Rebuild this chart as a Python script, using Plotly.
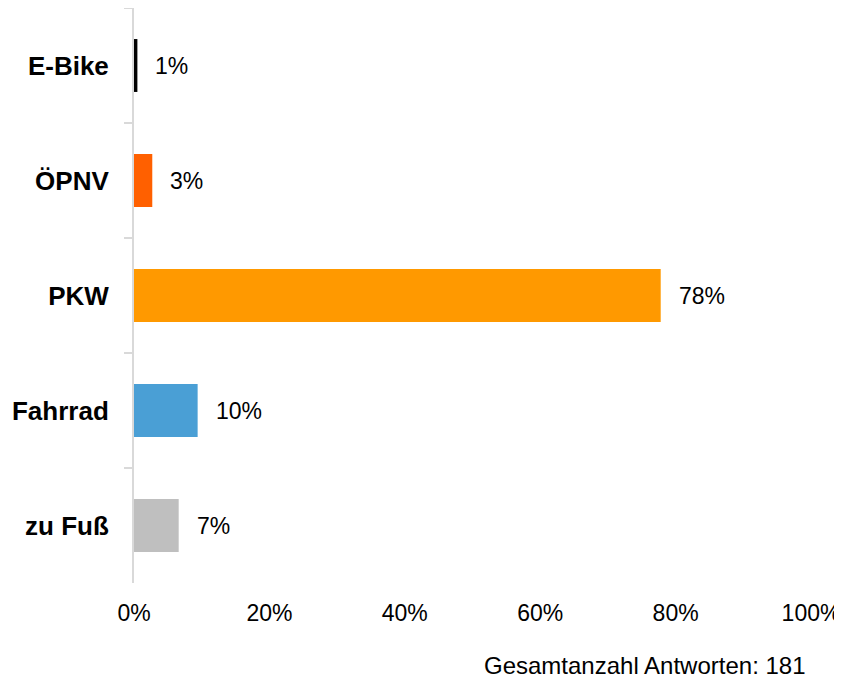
import plotly.graph_objects as go

categories = ["E-Bike", "ÖPNV", "PKW", "Fahrrad", "zu Fuß"]
values = [0.5, 2.7, 77.8, 9.4, 6.6]
labels = ["1%", "3%", "78%", "10%", "7%"]
colors = ["#000000", "#FF6000", "#FF9900", "#4A9FD5", "#BFBFBF"]
x_ticks = [0, 20, 40, 60, 80, 100]
x_ticklabels = ["0%", "20%", "40%", "60%", "80%", "100%"]
note = "Gesamtanzahl Antworten: 181"

FONT = "Liberation Sans, Arial, sans-serif"

fig = go.Figure()
fig.add_trace(go.Bar(
    x=values, y=categories, orientation="h",
    marker=dict(color=colors, line=dict(width=0)),
    hoverinfo="skip",
))

for c, v, t in zip(categories, values, labels):
    fig.add_annotation(x=v, y=c, xref="x", yref="y", text=t, showarrow=False,
                       xanchor="left", yanchor="middle", xshift=16,
                       font=dict(family=FONT, size=23, color="#000000"))

fig.add_annotation(x=0.996, y=-0.144, xref="paper", yref="paper", text=note,
                   showarrow=False, xanchor="right", yanchor="middle",
                   font=dict(family=FONT, size=24, color="#000000"))

fig.update_layout(
    width=834, height=670,
    margin=dict(l=126, r=31, t=0, b=95),
    plot_bgcolor="white", paper_bgcolor="white",
    showlegend=False,
    bargap=0.54,
    font=dict(family=FONT, size=23, color="#000000"),
    xaxis=dict(range=[0, 100], tickvals=x_ticks, ticktext=x_ticklabels,
               showgrid=False, zeroline=False, showline=False, ticks="",
               ticklabelstandoff=14,
               tickfont=dict(family=FONT, size=23, color="#000000")),
    yaxis=dict(autorange="reversed", showgrid=False, zeroline=False,
               showline=True, linecolor="#d9d9d9", linewidth=2,
               ticks="outside", tickson="boundaries", ticklen=8,
               tickcolor="#d9d9d9", tickwidth=2,
               ticklabelstandoff=18,
               tickfont=dict(family=FONT, size=26, color="#000000", weight="bold")),
)

fig.write_html("out.html")
